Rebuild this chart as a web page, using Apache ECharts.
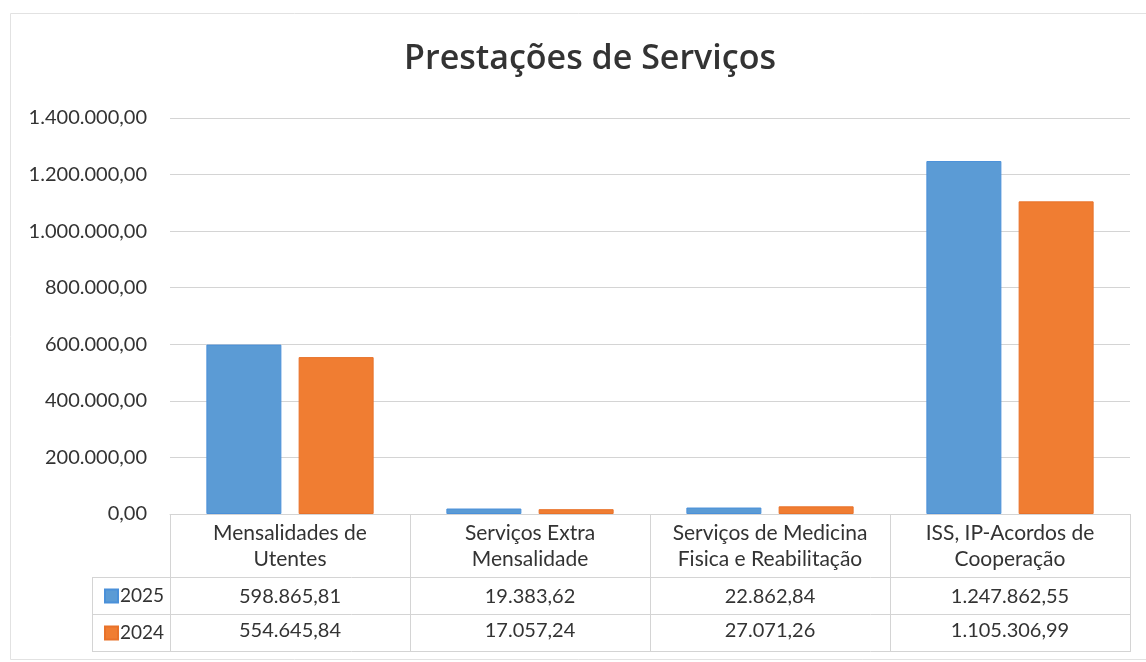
<!DOCTYPE html>
<html>
<head>
<meta charset="utf-8">
<script src="https://cdn.jsdelivr.net/npm/echarts@6/dist/echarts.min.js"></script>
<style>
  html, body { margin: 0; padding: 0; background: #fff; }
  #chart { width: 1146px; height: 662px; }
</style>
</head>
<body>
<div id="chart"></div>
<script>
// dados
const categories = [
  'Mensalidades de\nUtentes',
  'Serviços Extra\nMensalidade',
  'Serviços de Medicina\nFisica e Reabilitação',
  'ISS, IP-Acordos de\nCooperação'
];
const years = ['2025', '2024'];
const values2025 = [598865.81, 19383.62, 22862.84, 1247862.55];
const values2024 = [554645.84, 17057.24, 27071.26, 1105306.99];
const yTicks = { min: 0, max: 1400000, interval: 200000 };

const FONT = 'Lato';
const TEXT = '#333';
const LINE = '#d4d4d4';

// formato pt: 1.234.567,89
function fmt(v) {
  const parts = v.toFixed(2).split('.');
  const int = parts[0].replace(/\B(?=(\d{3})+(?!\d))/g, '.');
  return int + ',' + parts[1];
}

const chart = echarts.init(document.getElementById('chart'));

const option = {
  backgroundColor: '#fff',
  animation: false,
  textStyle: { fontFamily: FONT, color: TEXT },
  title: {
    text: 'Prestações de Serviços',
    left: 585,
    textAlign: 'center',
    top: 37,
    textStyle: { fontFamily: 'Open Sans', fontSize: 34, fontWeight: 600, color: '#333' }
  },
  legend: {
    data: years,
    orient: 'vertical',
    left: 99,
    top: 581,
    icon: 'rect',
    itemWidth: 13,
    itemHeight: 13,
    itemGap: 17,
    textStyle: { fontFamily: FONT, fontSize: 19, lineHeight: 20, color: TEXT, padding: [0, 0, 0, -3] },
    selectedMode: false
  },
  grid: { left: 170, right: 16, top: 118, bottom: 148, containLabel: false },
  xAxis: {
    type: 'category',
    data: categories,
    axisLine: { show: true, lineStyle: { color: LINE } },
    axisTick: { show: true, length: 138, lineStyle: { color: LINE } },
    axisLabel: {
      margin: 6,
      interval: 0,
      formatter: (value, idx) =>
        '{h|' + value + '}\n{v1|' + fmt(values2025[idx]) + '}\n{v2|' + fmt(values2024[idx]) + '}',
      rich: {
        h: { fontFamily: FONT, fontSize: 21, lineHeight: 26, color: TEXT },
        v1: { fontFamily: FONT, fontSize: 20, lineHeight: 49, color: TEXT },
        v2: { fontFamily: FONT, fontSize: 20, lineHeight: 20, color: TEXT }
      }
    }
  },
  yAxis: {
    type: 'value',
    min: yTicks.min,
    max: yTicks.max,
    interval: yTicks.interval,
    axisLine: { show: false },
    axisTick: { show: false },
    splitLine: { lineStyle: { color: LINE } },
    axisLabel: {
      margin: 23,
      fontFamily: FONT,
      fontSize: 20,
      color: TEXT,
      formatter: v => fmt(v)
    }
  },
  graphic: [
    // moldura do gráfico
    { type: 'rect', silent: true, shape: { x: 10.5, y: 13.5, width: 1150, height: 646 },
      style: { fill: 'none', stroke: '#e2e2e2', lineWidth: 1 } },
    // linhas da tabela de dados
    { type: 'line', silent: true, shape: { x1: 92, y1: 577.5, x2: 1130, y2: 577.5 }, style: { stroke: LINE } },
    { type: 'line', silent: true, shape: { x1: 92, y1: 614.5, x2: 1130, y2: 614.5 }, style: { stroke: LINE } },
    { type: 'line', silent: true, shape: { x1: 92, y1: 651.5, x2: 1130, y2: 651.5 }, style: { stroke: LINE } },
    { type: 'line', silent: true, shape: { x1: 92.5, y1: 577, x2: 92.5, y2: 652 }, style: { stroke: LINE } }
  ],
  series: [
    {
      name: years[0],
      type: 'bar',
      data: values2025,
      barWidth: 75,
      barGap: '23%',
      itemStyle: { color: '#5B9BD5', borderColor: '#4a90d9', borderWidth: 1 }
    },
    {
      name: years[1],
      type: 'bar',
      data: values2024,
      barWidth: 75,
      itemStyle: { color: '#F07D32', borderColor: '#e8722a', borderWidth: 1 }
    }
  ]
};

chart.setOption(option);
</script>
</body>
</html>
